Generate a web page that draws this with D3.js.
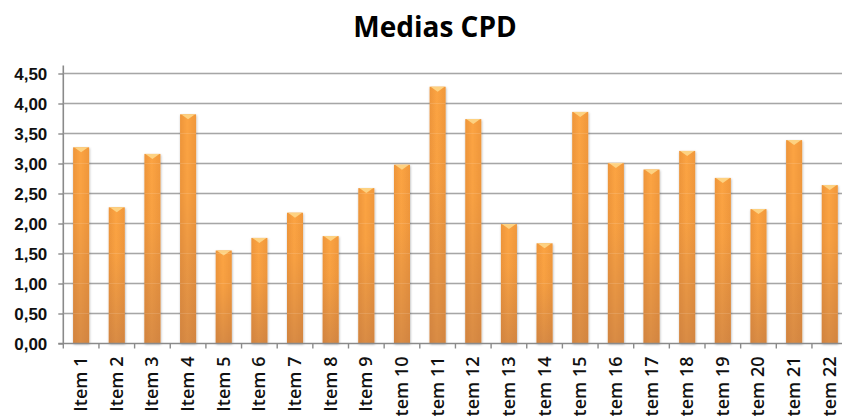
<!DOCTYPE html>
<html>
<head>
<meta charset="utf-8">
<script src="https://cdn.jsdelivr.net/npm/d3@7"></script>
<style>
  body { margin: 0; background: #fff; }
  svg { display: block; font-family: "Open Sans", sans-serif; }
</style>
</head>
<body>
<div id="chart"></div>
<script>
// chart data
const categories = ["Item 1", "Item 2", "Item 3", "Item 4", "Item 5", "Item 6", "Item 7", "Item 8",
  "Item 9", "Item 10", "Item 11", "Item 12", "Item 13", "Item 14", "Item 15", "Item 16",
  "Item 17", "Item 18", "Item 19", "Item 20", "Item 21", "Item 22"];
const values = [3.27, 2.27, 3.16, 3.82, 1.55, 1.76, 2.18, 1.79, 2.59, 2.98, 4.28,
  3.74, 1.99, 1.67, 3.86, 3.01, 2.90, 3.21, 2.76, 2.24, 3.39, 2.64];
const yTicks = [0, 0.5, 1, 1.5, 2, 2.5, 3, 3.5, 4, 4.5];
const title = "Medias CPD";

const W = 842, H = 416;
const plotLeft = 63.3, plotTop = 73.5, plotBottom = 343.5;
const catWidth = 35.65;

var svg = d3.select("#chart").append("svg")
    .attr("width", W)
    .attr("height", H);

var defs = svg.append("defs");
var hg = defs.append("linearGradient").attr("id", "barH").attr("x1", 0).attr("x2", 1).attr("y1", 0).attr("y2", 0);
hg.append("stop").attr("offset", "0%").attr("stop-color", "#ee9539");
hg.append("stop").attr("offset", "45%").attr("stop-color", "#fca443");
hg.append("stop").attr("offset", "100%").attr("stop-color", "#f0973a");
var vg = defs.append("linearGradient").attr("id", "barV").attr("x1", 0).attr("x2", 0).attr("y1", 0).attr("y2", 1);
vg.append("stop").attr("offset", "0%").attr("stop-color", "#a86a48").attr("stop-opacity", 0);
vg.append("stop").attr("offset", "35%").attr("stop-color", "#a86a48").attr("stop-opacity", 0.05);
vg.append("stop").attr("offset", "100%").attr("stop-color", "#a86a48").attr("stop-opacity", 0.42);
var sh = defs.append("filter").attr("id", "shadow").attr("x", "-30%").attr("y", "-10%").attr("width", "160%").attr("height", "120%");
sh.append("feDropShadow").attr("dx", 0.5).attr("dy", 1).attr("stdDeviation", 1.3)
  .attr("flood-color", "#000").attr("flood-opacity", 0.3);

var x = d3.scaleBand()
    .domain(categories)
    .range([plotLeft, plotLeft + catWidth * categories.length])
    .paddingInner(0.55)
    .paddingOuter(0.275);

var y = d3.scaleLinear()
    .domain([0, 4.5])
    .range([plotBottom, plotTop]);

// gridlines
svg.append("g")
    .selectAll("line")
    .data(yTicks.filter(d => d > 0))
    .enter().append("line")
    .attr("x1", plotLeft)
    .attr("x2", W)
    .attr("y1", d => y(d))
    .attr("y2", d => y(d))
    .attr("stroke", "#9a9a9a")
    .attr("stroke-width", 1.6);

// y axis
var yAxis = svg.append("g")
    .attr("transform", "translate(" + plotLeft + ",0)")
    .call(d3.axisLeft(y).tickValues(yTicks).tickSize(5).tickPadding(11)
      .tickFormat(d => d3.format(".2f")(d).replace(".", ",")));
yAxis.select(".domain").attr("stroke", "#8a8a8a").attr("stroke-width", 1.6).attr("d", "M0," + (plotTop - 8) + "V" + plotBottom);
yAxis.selectAll(".tick line").attr("stroke", "#8a8a8a").attr("stroke-width", 1.4);
yAxis.selectAll("text")
    .attr("fill", "#111")
    .style("font-size", "17px")
    .style("font-weight", 600)
    .attr("dy", "0.35em");

// bars
var bars = svg.append("g").selectAll("g.bar")
    .data(values)
    .enter().append("g")
    .attr("class", "bar");

bars.append("rect")
    .attr("x", (d, i) => x(categories[i]))
    .attr("y", d => y(d))
    .attr("width", x.bandwidth())
    .attr("height", d => plotBottom - y(d))
    .attr("fill", "url(#barH)")
    .attr("filter", "url(#shadow)");

bars.append("rect")
    .attr("x", (d, i) => x(categories[i]))
    .attr("y", d => y(d))
    .attr("width", x.bandwidth())
    .attr("height", d => plotBottom - y(d))
    .attr("fill", "url(#barV)");

// bevel highlight at the top of each bar
bars.append("path")
    .attr("d", (d, i) => {
      var x0 = x(categories[i]), bw = x.bandwidth(), yt = y(d);
      return "M" + (x0 + 1) + "," + yt + "H" + (x0 + bw - 1) + "L" + (x0 + bw / 2) + "," + (yt + 5) + "Z";
    })
    .attr("fill", "#fdd282");

// faint gridlines showing through the bars
svg.append("g")
    .selectAll("line")
    .data(yTicks.filter(d => d > 0))
    .enter().append("line")
    .attr("x1", plotLeft)
    .attr("x2", W)
    .attr("y1", d => y(d))
    .attr("y2", d => y(d))
    .attr("stroke", "#ffffff")
    .attr("stroke-opacity", 0.12)
    .attr("stroke-width", 1.2);

// x axis
var xAxis = svg.append("g")
    .attr("transform", "translate(0," + plotBottom + ")");
xAxis.append("line")
    .attr("x1", plotLeft - 5).attr("x2", W)
    .attr("stroke", "#8a8a8a").attr("stroke-width", 1.6);
xAxis.selectAll("line.tick")
    .data(d3.range(categories.length + 1))
    .enter().append("line")
    .attr("class", "tick")
    .attr("x1", i => plotLeft + i * catWidth)
    .attr("x2", i => plotLeft + i * catWidth)
    .attr("y1", 0).attr("y2", 5)
    .attr("stroke", "#8a8a8a").attr("stroke-width", 1.4);
xAxis.selectAll("text")
    .data(categories)
    .enter().append("text")
    .attr("transform", d => "translate(" + (x(d) + x.bandwidth() / 2 + 6) + ",13) rotate(-90)")
    .attr("text-anchor", "end")
    .attr("fill", "#111")
    .style("font-size", "18px")
    .style("font-weight", 600)
    .text(d => d);

// title
svg.append("text")
    .attr("x", 435)
    .attr("y", 37)
    .attr("text-anchor", "middle")
    .style("font-size", "28px")
    .style("font-weight", 700)
    .attr("fill", "#000")
    .text(title);
</script>
</body>
</html>
